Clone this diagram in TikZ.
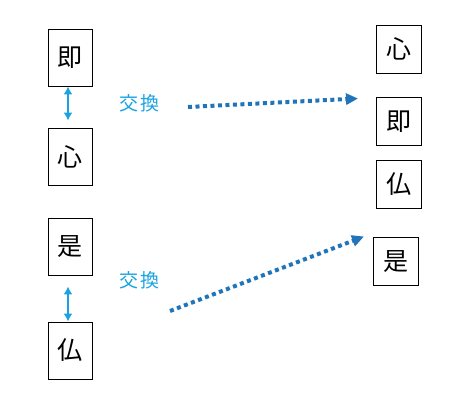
\documentclass[tikz,border=0pt]{standalone}
\usepackage{fontspec}
\newfontfamily\cjk{Noto Sans CJK JP}
\usetikzlibrary{arrows.meta}
\definecolor{swapcyan}{HTML}{1AA3DF}
\definecolor{swapblue}{HTML}{1F74BA}
\tikzset{
  charbox/.style={draw, line width=0.8pt, fill=white, inner sep=0pt, minimum width=44pt, minimum height=57pt, font=\cjk\fontsize{25}{25}\selectfont},
  smallbox/.style={charbox, minimum width=45pt, minimum height=48pt},
  swaplabel/.style={font=\cjk\fontsize{19}{19}\selectfont, text=swapcyan},
  swap/.style={{Latex[length=8pt,width=9pt]}-{Latex[length=8pt,width=9pt]}, line width=2.4pt, swapcyan},
  moveline/.style={-{Triangle[length=12pt,width=11pt]}, line width=4pt, dash pattern=on 4pt off 3.5pt, swapblue}
}
\begin{document}
\begin{tikzpicture}[x=1pt,y=-1pt]
  \useasboundingbox (0,0) rectangle (464,420);
  % left column
  \node[charbox] (jiL)   at (70,57.5)  {即};
  \node[charbox] (shinL) at (70,156.5) {心};
  \node[charbox] (zeL)   at (70,246.5) {是};
  \node[charbox] (butsuL) at (70,350.5) {仏};
  \draw[swap, shorten >=7pt] ([xshift=-2pt]jiL.south) -- ([xshift=-2pt]shinL.north);
  \draw[swap, shorten <=11pt] ([xshift=-2pt]zeL.south) -- ([xshift=-2pt]butsuL.north);
  \node[swaplabel] (swapA) at (139.5,103) {交\hspace{3pt}換};
  \node[swaplabel] (swapB) at (139.5,280) {交\hspace{3pt}換};

  % right column
  \node[smallbox] (shinR)  at (398.5,49)   {心};
  \node[smallbox] (jiR)    at (398.5,121.5) {即};
  \node[smallbox] (butsuR) at (398.5,184)  {仏};
  \node[smallbox] (zeR)    at (395.5,261.5) {是};

  % moves
  \coordinate (fromA) at (188,107);
  \coordinate (toA) at (358,98.5);
  \coordinate (fromB) at (170,311);
  \coordinate (toB) at (364,236.5);
  \draw[moveline] (fromA) -- (toA);
  \draw[moveline] (fromB) -- (toB);
\end{tikzpicture}
\end{document}
